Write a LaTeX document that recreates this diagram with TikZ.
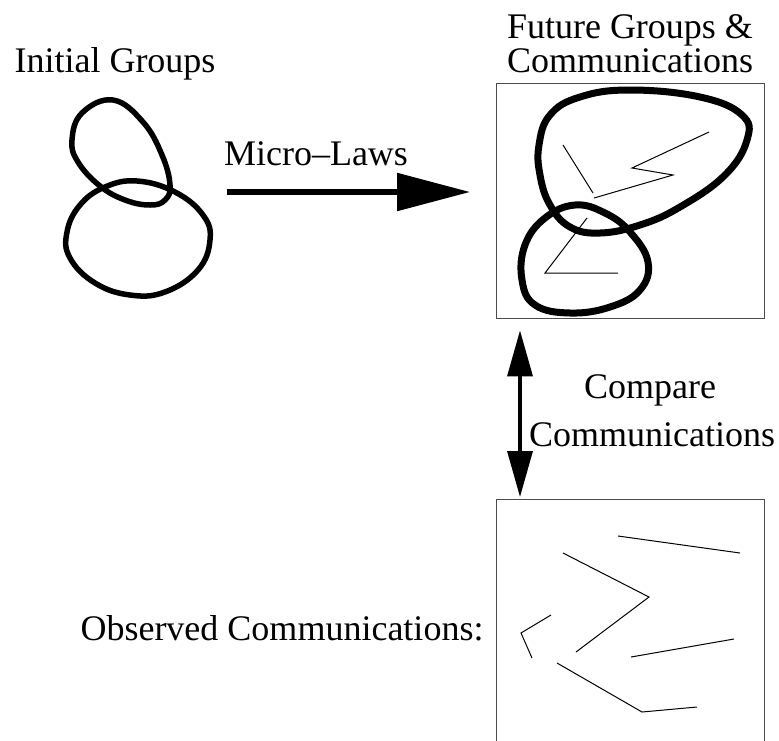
\documentclass[tikz,border=0pt]{standalone}
\usepackage{fontspec}
\setmainfont{Liberation Serif}
\usetikzlibrary{arrows.meta,calc}
\begin{document}
\begin{tikzpicture}[x=1pt,y=-1pt,
  lbl/.style={font=\fontsize{36}{40}\selectfont, inner sep=0pt, anchor=base},
  box/.style={draw=black!70, line width=1.4pt, inner sep=0pt, anchor=north west, minimum width=268pt},
  loopA/.style={line width=5.5pt, line join=round},
  loopB/.style={line width=7pt, line join=round},
  thin/.style={line width=1pt},
  bigarrow/.style={line width=5.5pt, -{Triangle[length=73pt,width=37pt]}},
  varrow/.style={line width=3.5pt, {Triangle[length=46pt,width=25pt]}-{Triangle[length=46pt,width=25pt]}}
]
\useasboundingbox (0,0) rectangle (779,740);
\clip (0,0) rectangle (779,740);

% labels
\node[lbl] (init) at (115,72) {Initial Groups};
\node[lbl] (fut1) at (630,38) {Future Groups \&};
\node[lbl] (fut2) at (630,72) {Communications};
\node[lbl] (micro) at (316,165) {Micro–Laws};
\node[lbl] (cmp1) at (650,398) {Compare};
\node[lbl] (cmp2) at (652,446) {Communications};
\node[lbl] (obs) at (282,640) {Observed Communications:};

% boxes
\node[box, minimum height=235pt] (top) at (496,83) {};
\node[box, minimum height=300pt] (bot) at (496,499) {};

% left loops
\draw[loopA] plot[smooth cycle, tension=0.7] coordinates {(113,100) (143,122) (162,155) (170,185) (165,200) (150,205) (125,200) (100,186) (78,162) (72,140) (82,113)};
\draw[loopA] plot[smooth cycle, tension=0.7] coordinates {(137,181) (175,192) (203,215) (210,240) (198,270) (165,292) (130,295) (95,283) (70,258) (67,232) (80,205) (105,187)};

% loops in top box
\draw[loopB] plot[smooth cycle, tension=0.7] coordinates {(630,90) (700,97) (742,115) (747,140) (725,175) (680,207) (640,225) (600,233) (570,227) (550,205) (540,175) (539,145) (550,115) (580,97)};
\draw[loopB] plot[smooth cycle, tension=0.7] coordinates {(575,205) (605,213) (630,232) (648,262) (640,290) (610,307) (570,313) (535,305) (522,280) (525,245) (545,218)};

% communications in top box
\draw[thin] (563,145) -- (593,193);
\draw[thin] (594,198) -- (673,175) -- (632,168) -- (709,132);
\draw[thin] (587,218) -- (545,273) -- (618,273);

% observed communications
\draw[thin] (618,536) -- (740,553);
\draw[thin] (563,553) -- (649,597) -- (576,652);
\draw[thin] (551,615) -- (521,633) -- (532,658);
\draw[thin] (631,657) -- (734,639);
\draw[thin] (557,663) -- (642,712) -- (697,707);

% arrows
\coordinate (mlS) at (227,192);
\coordinate (mlE) at (470,192);
\draw[bigarrow] (mlS) -- (mlE);
\draw[varrow] ($(top.south west)+(24,11)$) -- ($(bot.north west)+(24,-2)$);
\end{tikzpicture}
\end{document}
